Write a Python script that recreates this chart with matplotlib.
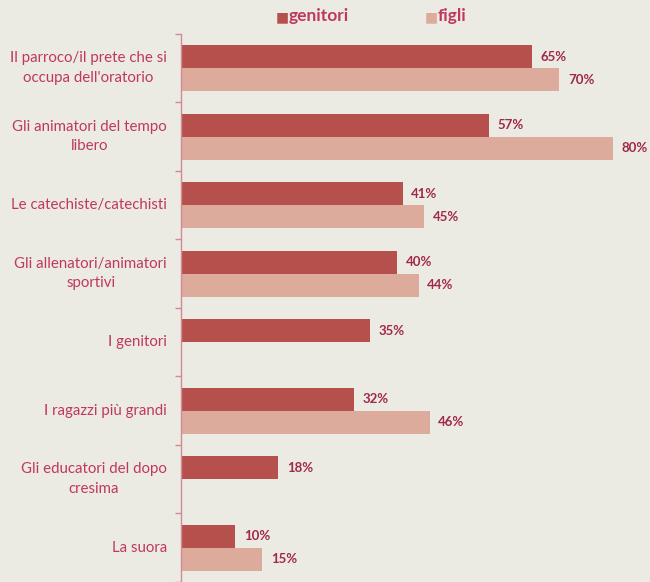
import numpy as np
import matplotlib.pyplot as plt
import matplotlib.transforms as mtransforms

categories = ["Il parroco/il prete che si\noccupa dell'oratorio",
              "Gli animatori del tempo\nlibero",
              "Le catechiste/catechisti",
              "Gli allenatori/animatori\nsportivi",
              "I genitori",
              "I ragazzi più grandi",
              "Gli educatori del dopo\ncresima",
              "La suora"]
genitori = [65, 57, 41, 40, 35, 32, 18, 10]
figli = [70, 80, 45, 44, None, 46, None, 15]

bg = '#ecebe3'
c_gen = '#b5504c'
c_fig = '#dcab9b'
txt = '#c0385c'
val_c = '#a02848'

plt.rcParams['font.family'] = ['Lato', 'DejaVu Sans']

fig = plt.figure(figsize=(6.5, 5.82), dpi=100, facecolor=bg)
ax = fig.add_axes([0.2785, 0.0, 0.7215, 0.9416], facecolor=bg)

y = np.arange(len(categories))
h = 0.335
for i in range(len(categories)):
    ax.barh(y[i] - h / 2, genitori[i], height=h, color=c_gen, edgecolor='none')
    ax.text(genitori[i] + 1.6, y[i] - h / 2, f"{genitori[i]}%", va='center', ha='left',
            fontsize=9.5, fontweight='bold', color=val_c)
    if figli[i] is not None:
        ax.barh(y[i] + h / 2, figli[i], height=h, color=c_fig, edgecolor='none')
        ax.text(figli[i] + 1.6, y[i] + h / 2, f"{figli[i]}%", va='center', ha='left',
                fontsize=9.5, fontweight='bold', color=val_c)

ax.set_xlim(0, 86.8)
ax.set_ylim(len(categories) - 0.5, -0.5)

for s in ['top', 'right', 'bottom']:
    ax.spines[s].set_visible(False)
ax.spines['left'].set_color('#d08a98')
ax.spines['left'].set_linewidth(1.0)
ax.set_xticks([])
ax.set_yticks(np.arange(-0.5, len(categories), 1.0))
ax.set_yticklabels([])
ax.tick_params(axis='y', length=4, color='#d08a98', width=1.0)

# category labels: block right-aligned next to the axis, lines centred inside the block
renderer = fig.canvas.get_renderer()
right_px = 14
line_px = 19.5
for i, lab in enumerate(categories):
    lines = lab.split('\n')
    widths = []
    for ln in lines:
        t = fig.text(0, 0, ln, fontsize=10.8)
        widths.append(t.get_window_extent(renderer).width)
        t.remove()
    maxw = max(widths)
    for k, ln in enumerate(lines):
        dy = (k - (len(lines) - 1) / 2) * line_px
        off = mtransforms.ScaledTranslation(-(right_px + maxw / 2) / 100, -dy / 100, fig.dpi_scale_trans)
        tr = mtransforms.blended_transform_factory(ax.transAxes, ax.transData) + off
        ax.text(0, y[i], ln, transform=tr, ha='center', va='center', fontsize=10.8, color=txt)

# legend
fig.text(276 / 650, 1 - 17 / 582, "\u25a0", color=c_gen, fontsize=10, ha='left', va='center')
fig.text(289 / 650, 1 - 16 / 582, "genitori", color=txt, fontsize=12.5, fontweight='bold', ha='left', va='center')
fig.text(425 / 650, 1 - 17 / 582, "\u25a0", color=c_fig, fontsize=10, ha='left', va='center')
fig.text(438 / 650, 1 - 16 / 582, "figli", color=txt, fontsize=12.5, fontweight='bold', ha='left', va='center')

fig.savefig('out.png', dpi=100, facecolor=bg)
